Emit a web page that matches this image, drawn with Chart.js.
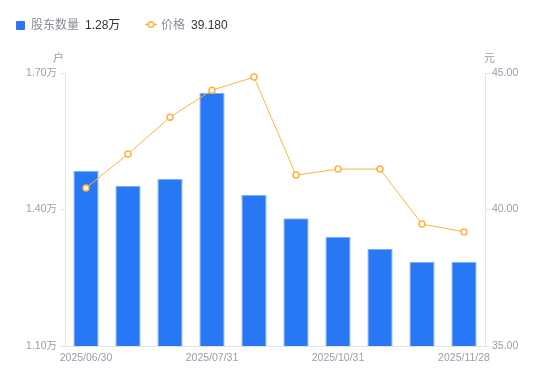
<!DOCTYPE html>
<html>
<head>
<meta charset="utf-8">
<script src="https://cdn.jsdelivr.net/npm/chart.js@4/dist/chart.umd.min.js"></script>
<style>
  html, body { margin:0; padding:0; background:#fff; }
  #wrap { position:relative; width:550px; height:381px; font-family:"Liberation Sans","Noto Sans CJK SC",sans-serif; }
  canvas { position:absolute; left:0; top:0; }
  .lg { position:absolute; top:18px; font-size:12px; line-height:15px; white-space:nowrap; }
  .lg .nm { color:#8a8c99; }
  .lg .vl { color:#333; margin-left:6px; }
  .unit { position:absolute; top:49px; font-size:11px; color:#9b9caa; }
</style>
</head>
<body>
<div id="wrap">
  <canvas id="c" width="550" height="381"></canvas>
  <div class="lg" style="left:16px;"><span style="display:inline-block;width:9px;height:9px;background:#2878f5;border-radius:1px;margin-right:6px;vertical-align:-1px;"></span><span class="nm" id="n1"></span><span class="vl" id="v1"></span></div>
  <div class="lg" style="left:145px;"><svg width="12" height="9" style="margin-right:4px;vertical-align:0px;"><line x1="0" y1="4.5" x2="12" y2="4.5" stroke="#ffb13a" stroke-width="1.5"/><circle cx="6" cy="4.5" r="2.8" fill="#fff" stroke="#ffb13a" stroke-width="1.5"/></svg><span class="nm" id="n2"></span><span class="vl" id="v2"></span></div>
  <div class="unit" style="left:53px;">户</div>
  <div class="unit" style="left:484px;">元</div>
</div>
<script>
const categories = ["2025/06/30","2025/07/10","2025/07/20","2025/07/31","2025/08/29","2025/09/30","2025/10/31","2025/11/10","2025/11/20","2025/11/28"];
const shownLabelIndex = [0, 3, 6, 9];
const holders = [1.485, 1.452, 1.467, 1.656, 1.432, 1.381, 1.340, 1.313, 1.285, 1.285]; // 万户
const prices = [40.79, 42.03, 43.38, 44.37, 44.85, 41.26, 41.48, 41.48, 39.47, 39.18];
const holderTicks = [1.10, 1.40, 1.70];
const priceTicks = [35.00, 40.00, 45.00];
const seriesNames = ["股东数量", "价格"];
const legendHolderValue = "1.28万";
const legendPriceValue = "39.180";

document.getElementById('n1').textContent = seriesNames[0];
document.getElementById('v1').textContent = legendHolderValue;
document.getElementById('n2').textContent = seriesNames[1];
document.getElementById('v2').textContent = legendPriceValue;

const tickFont = { family: '"Liberation Sans","Noto Sans CJK SC",sans-serif', size: 10.5 };
const tickColor = '#9b9caa';
const axisColor = '#e3e3e8';

new Chart(document.getElementById('c'), {
  data: {
    labels: categories,
    datasets: [
      {
        type: 'line', label: seriesNames[1], data: prices, yAxisID: 'yR',
        borderColor: '#ffb13a', borderWidth: 1, backgroundColor: '#fff',
        pointRadius: 3, pointBorderWidth: 1.5, pointBackgroundColor: '#fff', pointBorderColor: '#ffb13a',
        tension: 0, order: 0
      },
      {
        type: 'bar', label: seriesNames[0], data: holders, yAxisID: 'yL',
        backgroundColor: '#2878f5', borderColor: '#7eaef8', borderWidth: {top:1,left:1,right:1,bottom:0},
        borderSkipped: 'bottom',
        categoryPercentage: 1, barPercentage: 0.6, order: 1
      }
    ]
  },
  options: {
    responsive: false, animation: false, devicePixelRatio: 1,
    layout: { padding: { top: 73, left: 0, right: 0, bottom: 0 } },
    plugins: { legend: { display: false }, tooltip: { enabled: false } },
    scales: {
      x: {
        offset: true,
        grid: { display: false, drawTicks: false },
        border: { display: true, color: axisColor },
        ticks: {
          autoSkip: false, maxRotation: 0, color: tickColor, font: tickFont, padding: 6,
          callback: function(v, i) { return shownLabelIndex.includes(i) ? categories[i] : ''; }
        },
        afterFit: function(a) { a.height = 35; }
      },
      yL: {
        position: 'left', min: holderTicks[0], max: holderTicks[holderTicks.length-1],
        afterBuildTicks: function(a) { a.ticks = holderTicks.map(v => ({ value: v })); },
        grid: { display: true, drawOnChartArea: false, color: axisColor, tickLength: 5 },
        border: { display: true, color: axisColor },
        ticks: { color: tickColor, font: tickFont, padding: 3, callback: v => v.toFixed(2) + '万' },
        afterFit: function(a) { a.width = 65; }
      },
      yR: {
        position: 'right', min: priceTicks[0], max: priceTicks[priceTicks.length-1],
        afterBuildTicks: function(a) { a.ticks = priceTicks.map(v => ({ value: v })); },
        grid: { display: true, drawOnChartArea: false, color: axisColor, tickLength: 5 },
        border: { display: true, color: axisColor },
        ticks: { color: tickColor, font: tickFont, padding: 2, callback: v => v.toFixed(2) },
        afterFit: function(a) { a.width = 65; }
      }
    }
  }
});
</script>
</body>
</html>
